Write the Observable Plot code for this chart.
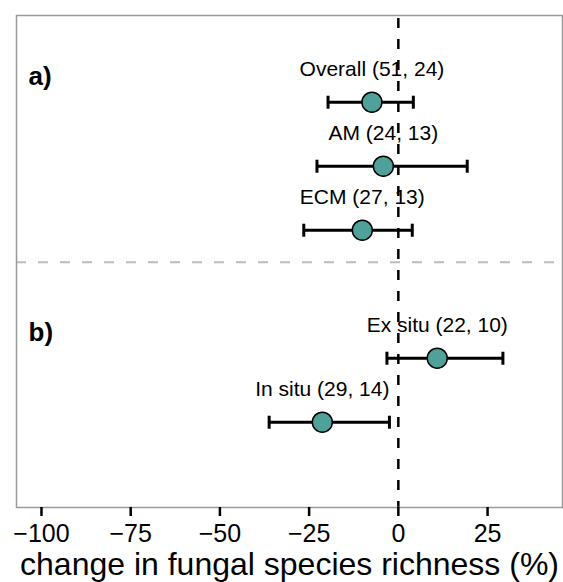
<!DOCTYPE html>
<html>
<head>
<meta charset="utf-8">
<script src="https://cdn.jsdelivr.net/npm/d3@7"></script>
<script src="https://cdn.jsdelivr.net/npm/@observablehq/plot@0.6"></script>
<style>
  html, body { margin: 0; padding: 0; background: #fff; }
  svg { display: block; }
</style>
</head>
<body>
<div id="chart"></div>
<script>
// Data
const labels   = ["Overall (51, 24)", "AM (24, 13)", "ECM (27, 13)", "Ex situ (22, 10)", "In situ (29, 14)"];
const groups   = ["a)", "a)", "a)", "b)", "b)"];
const estimate = [-7.4, -4.2, -10.1, 10.9, -21.3];
const lower    = [-19.7, -22.8, -26.5, -3.2, -36.2];
const upper    = [4.2, 19.3, 3.9, 29.3, -2.5];
const groupNames = ["a)", "b)"];
const xTicks = [-100, -75, -50, -25, 0, 25];
const xTitle = "change in fungal species richness (%)";

// Row order: items in order, with one empty row between groups
const rows = labels.map((label, i) => ({
  label,
  group: groups[i],
  est: estimate[i],
  lo: lower[i],
  hi: upper[i],
  row: i + groupNames.indexOf(groups[i])
}));
const groupLabels = groupNames.map(g => ({
  g,
  row: d3.min(rows.filter(r => r.group === g), r => r.row) - 0.27
}));
const separator = [d3.max(rows.filter(r => r.group === "a)"), r => r.row) + 0.5];

const font = "'Liberation Sans', Arial, Helvetica, sans-serif";
const vbar = {
  draw(context, size) {
    const h = Math.sqrt(size / Math.PI);
    context.moveTo(0, -h);
    context.lineTo(0, h);
  }
};

const chart = Plot.plot({
  width: 563,
  height: 582,
  marginLeft: 16,
  marginRight: 1,
  marginTop: 15,
  marginBottom: 75,
  style: { fontFamily: font, background: "#fff", color: "#000" },
  x: { domain: [-107, 46] },
  y: { domain: [-1.355, 6.3325], reverse: true, axis: null },
  marks: [
    Plot.ruleY(separator, { stroke: "#bdbdbd", strokeWidth: 2, strokeDasharray: "10,12" }),
    Plot.ruleX([0], { stroke: "#000", strokeWidth: 2.5, strokeDasharray: "10,11", strokeDashoffset: -3 }),
    Plot.link(rows, { x1: "lo", x2: "hi", y1: "row", y2: "row", stroke: "#000", strokeWidth: 3 }),
    Plot.dot(rows, { x: "lo", y: "row", symbol: vbar, r: 6.5, stroke: "#000", strokeWidth: 3 }),
    Plot.dot(rows, { x: "hi", y: "row", symbol: vbar, r: 6.5, stroke: "#000", strokeWidth: 3 }),
    Plot.dot(rows, { x: "est", y: "row", r: 10, fill: "#4fa29a", stroke: "#000", strokeWidth: 1.5 }),
    Plot.text(rows, { x: "est", y: "row", text: "label", dy: -26, lineAnchor: "bottom", fontSize: 21, fill: "#000" }),
    Plot.text(groupLabels, { y: "row", text: "g", frameAnchor: "left", dx: 12, textAnchor: "start", lineAnchor: "bottom", fontSize: 26, fontWeight: "bold", fill: "#000" }),
    Plot.frame({ stroke: "#9a9a9a", strokeWidth: 1.5 }),
    Plot.axisX(xTicks, { tickSize: 9, tickPadding: 8, strokeWidth: 2.5, fontSize: 25, tickFormat: d3.format(""), label: null }),
    Plot.text([xTitle], { frameAnchor: "bottom", dy: 67, lineAnchor: "bottom", fontSize: 32, fill: "#000" })
  ]
});
document.getElementById("chart").append(chart);
</script>
</body>
</html>
